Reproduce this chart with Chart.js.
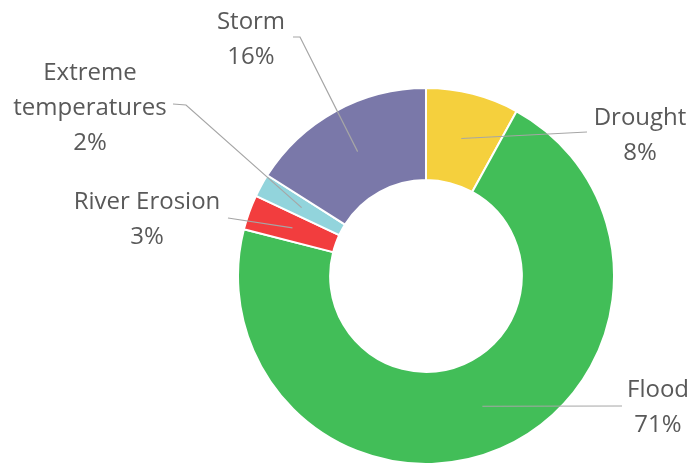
<!DOCTYPE html>
<html>
<head>
<meta charset="utf-8">
<script src="https://cdn.jsdelivr.net/npm/chart.js@4"></script>
<style>
  html, body { margin: 0; padding: 0; background: #fff; }
  #wrap { width: 691px; height: 466px; position: relative; }
</style>
</head>
<body>
<div id="wrap"><canvas id="hazardChart"></canvas></div>
<script>
// Share of hazards, clockwise from 12 o'clock
var hazards = ['Drought', 'Flood', 'River Erosion', 'Extreme temperatures', 'Storm'];
var shares = [8, 71, 3, 2, 16];
var sliceColors = ['#F5D03D', '#42BE58', '#F23D3E', '#92D4DC', '#7A78A9'];

// Where each label sits and where its leader line leaves it
var labelLines = [
    ['Drought'], ['Flood'], ['River Erosion'], ['Extreme', 'temperatures'], ['Storm']
];
var labelBoxes = [
    { x: 640, y: 118, start: [587, 132] },
    { x: 658, y: 390, start: [622, 406] },
    { x: 147, y: 202, start: [228, 218] },
    { x: 90,  y: 73,  start: [173, 104], elbow: [186, 105] },
    { x: 251, y: 22,  start: [293, 37],  elbow: [300, 37] }
];

var calloutLabels = {
    id: 'calloutLabels',
    afterDatasetsDraw: function(chart) {
        var ctx = chart.ctx;
        var arcs = chart.getDatasetMeta(0).data;
        ctx.save();
        arcs.forEach(function(arc, i) {
            var box = labelBoxes[i];
            var p = arc.tooltipPosition();
            // leader line
            ctx.strokeStyle = '#A6A6A6';
            ctx.lineWidth = 1.2;
            ctx.beginPath();
            ctx.moveTo(box.start[0], box.start[1]);
            if (box.elbow) ctx.lineTo(box.elbow[0], box.elbow[1]);
            ctx.lineTo(p.x, p.y);
            ctx.stroke();
            // text
            ctx.fillStyle = '#595959';
            ctx.font = '24px "Open Sans", sans-serif';
            ctx.textAlign = 'center';
            ctx.textBaseline = 'middle';
            var lines = labelLines[i].concat([shares[i] + '%']);
            lines.forEach(function(t, k) {
                ctx.fillText(t, box.x, box.y + k * 35);
            });
        });
        ctx.restore();
    }
};

var ctx = document.getElementById('hazardChart').getContext('2d');
var hazardChart = new Chart(ctx, {
    type: 'doughnut',
    data: {
        labels: hazards,
        datasets: [{
            data: shares,
            backgroundColor: sliceColors,
            borderColor: '#ffffff',
            borderWidth: 2
        }]
    },
    options: {
        responsive: true,
        maintainAspectRatio: false,
        animation: false,
        cutout: '51%',
        layout: {
            padding: { left: 237, right: 76, top: 87, bottom: 1 }
        },
        plugins: {
            legend: { display: false },
            tooltip: { enabled: false }
        }
    },
    plugins: [calloutLabels]
});
</script>
</body>
</html>
